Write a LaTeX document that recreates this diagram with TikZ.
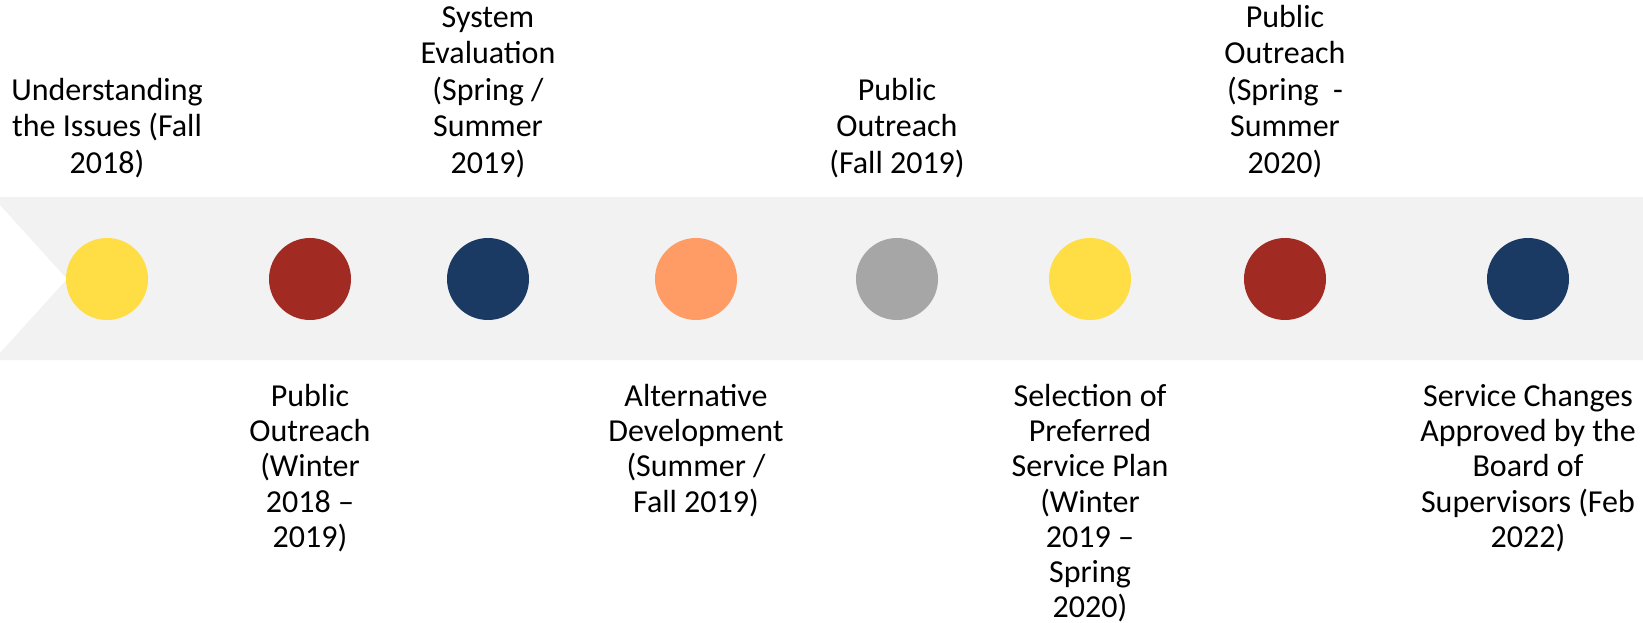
\documentclass[tikz,border=0pt]{standalone}
\usepackage{fontspec}
\setmainfont{Carlito}
\definecolor{band}{HTML}{F2F2F2}
\definecolor{dotyellow}{HTML}{FEDD45}
\definecolor{dotred}{HTML}{A12B23}
\definecolor{dotnavy}{HTML}{1A3A64}
\definecolor{dotorange}{HTML}{FF9C66}
\definecolor{dotgrey}{HTML}{A6A6A6}
\tikzstyle{dot}=[circle,minimum size=82pt,inner sep=0pt]
\tikzstyle{labeltop}=[align=center,anchor=south,inner sep=0pt,font=\fontsize{32}{36.5}\selectfont]
\tikzstyle{labelbot}=[align=center,anchor=north,inner sep=0pt,font=\fontsize{32}{35.2}\selectfont]

\begin{document}
\begin{tikzpicture}[x=1pt,y=-1pt]
    \useasboundingbox (0,0) rectangle (1643,623);
    % grey band with notch
    \fill[band] (0,197) -- (1643,197) -- (1643,360) -- (0,360) -- (0,353) -- (67,279) -- (0,205) -- cycle;

    \node[dot,fill=dotyellow] (d1) at (107,279) {};
    \node[dot,fill=dotred]    (d2) at (310,279) {};
    \node[dot,fill=dotnavy]   (d3) at (488,279) {};
    \node[dot,fill=dotorange] (d4) at (696,279) {};
    \node[dot,fill=dotgrey]   (d5) at (897,279) {};
    \node[dot,fill=dotyellow] (d6) at (1090,279) {};
    \node[dot,fill=dotred]    (d7) at (1285,279) {};
    \node[dot,fill=dotnavy]   (d8) at (1528,279) {};

    % labels above
    \node[labeltop] (t1) at (107,178) {Understanding\\the Issues (Fall\\2018)};
    \node[labeltop] (t3) at (488,178) {System\\Evaluation\\(Spring /\\Summer\\2019)};
    \node[labeltop] (t5) at (897,178) {Public\\Outreach\\(Fall 2019)};
    \node[labeltop] (t7) at (1285,178) {Public\\Outreach\\(Spring~~-\\Summer\\2020)};

    % labels below
    \node[labelbot] (b2) at (310,384) {Public\\Outreach\\(Winter\\2018 --\\2019)};
    \node[labelbot] (b4) at (696,384) {Alternative\\Development\\(Summer /\\Fall 2019)};
    \node[labelbot] (b6) at (1090,384) {Selection of\\Preferred\\Service Plan\\(Winter\\2019 --\\Spring\\2020)};
    \node[labelbot] (b8) at (1528,384) {Service Changes\\Approved by the\\Board of\\Supervisors (Feb\\2022)};
\end{tikzpicture}
\end{document}
